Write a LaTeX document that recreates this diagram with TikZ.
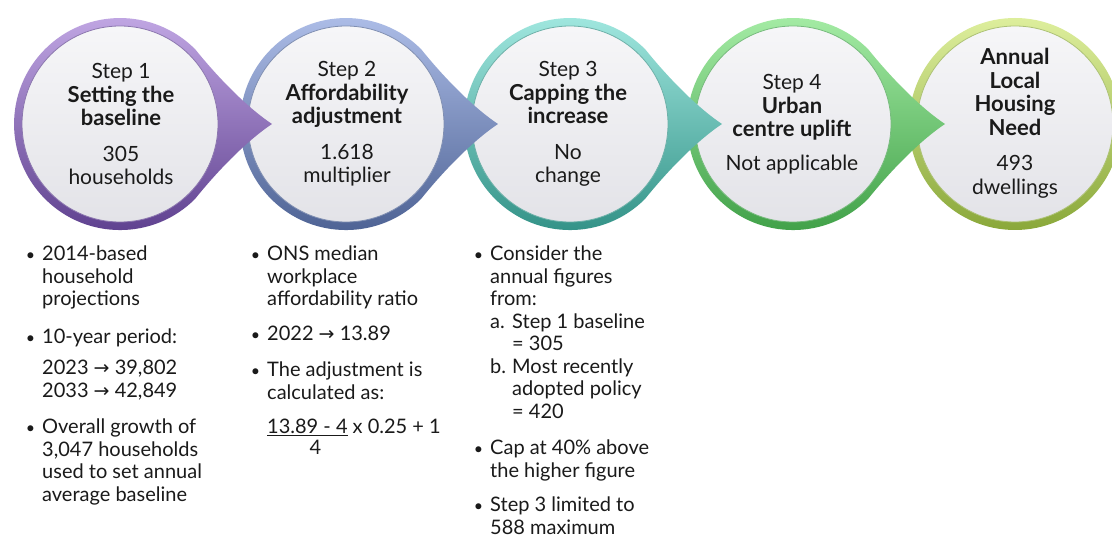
\documentclass[tikz,border=0pt]{standalone}
\usepackage{fontspec}
\setmainfont{Lato}
\newfontfamily\arrowfont{DejaVu Sans}
\usetikzlibrary{calc}
\definecolor{pAt}{HTML}{C4AAE6}\definecolor{pAb}{HTML}{5B3D8C}
\definecolor{pBt}{HTML}{B0C0EA}\definecolor{pBb}{HTML}{4A5F91}
\definecolor{pCt}{HTML}{A4EAE2}\definecolor{pCb}{HTML}{2F8F84}
\definecolor{pDt}{HTML}{A8EEA8}\definecolor{pDb}{HTML}{3D9E45}
\definecolor{pEt}{HTML}{DDEE9C}\definecolor{pEb}{HTML}{8AA83A}
\definecolor{diskTop}{HTML}{F6F6F8}\definecolor{diskBot}{HTML}{E3E3E8}
\definecolor{ink}{HTML}{1A1A1A}
\tikzset{
  circtext/.style={align=center, font=\fontsize{21}{23.5}\selectfont, text=ink, inner sep=0pt},
  listtext/.style={align=left, font=\fontsize{20}{22.5}\selectfont, text=ink, inner sep=0pt, anchor=north west},
}
\newcommand{\bul}{\llap{{\fontsize{16}{16}\selectfont\textbullet}\hspace{7pt}}}
\newcommand{\rarr}{{\arrowfont\fontsize{19}{19}\selectfont →}}
\newcommand{\hd}[1]{{\fontsize{22}{23.5}\selectfont\textbf{#1}}}
% #1 centre x, #2 top colour, #3 bottom colour
\newcommand{\teardrop}[3]{%
  \shade[top color=#2, bottom color=#3]
    (#1+75,492) .. controls (#1+95,467) and (#1+125,435) .. (#1+152,417)
    .. controls (#1+125,399) and (#1+95,367) .. (#1+75,342)
    arc[start angle=-45, end angle=-315, radius=106] -- cycle;}
\newcommand{\roundel}[3]{%
  \shade[top color=#2, bottom color=#3] (#1,417) circle[radius=106];}
\newcommand{\innerdisk}[2]{%
  \shade[top color=diskTop, bottom color=diskBot, draw=#2!70, line width=0.8pt] (#1,417) circle[radius=98];}
\begin{document}
\begin{tikzpicture}[x=1pt,y=1pt]
\useasboundingbox (0,0) rectangle (1112,541);
\fill[white] (0,0) rectangle (1112,541);
% shapes, drawn right to left so each pointer lies over the next circle
\roundel{1015}{pEt}{pEb}\innerdisk{1015}{pEb}
\teardrop{793}{pDt}{pDb}\innerdisk{793}{pDb}
\teardrop{570}{pCt}{pCb}\innerdisk{570}{pCb}
\teardrop{346}{pBt}{pBb}\innerdisk{346}{pBb}
\teardrop{120}{pAt}{pAb}\innerdisk{120}{pAb}
% circle texts
\node[circtext] (s1) at (121,417) {Step 1\\\hd{Setting the}\\\hd{baseline}\\[12pt]305\\households};
\node[circtext] (s2) at (347,417) {Step 2\\\hd{Affordability}\\\hd{adjustment}\\[12pt]1.618\\multiplier};
\node[circtext] (s3) at (568,417) {Step 3\\\hd{Capping the}\\\hd{increase}\\[12pt]No\\change};
\node[circtext] (s4) at (792,417) {Step 4\\\hd{Urban}\\\hd{centre uplift}\\[10pt]Not applicable};
\node[circtext] (s5) at (1015,418) {\hd{Annual}\\\hd{Local}\\\hd{Housing}\\\hd{Need}\\[12pt]493\\dwellings};
% lists
\node[listtext] (l1) at (42,295) {\bul 2014-based\\household\\projections\\[15pt]\bul 10-year period:\\[9pt]2023 \rarr{} 39,802\\2033 \rarr{} 42,849\\[14pt]\bul Overall growth of\\3,047 households\\used to set annual\\average baseline};
\node[listtext] (l2) at (267,295) {\bul ONS median\\workplace\\affordability ratio\\[12pt]\bul 2022 \rarr{} 13.89\\[14pt]\bul The adjustment is\\calculated as:\\[12pt]{\renewcommand\arraystretch{0.88}\begin{tabular}[t]{@{}c@{}}\underline{13.89 - 4}\\\hspace*{16pt}4\end{tabular}} x 0.25 + 1};
\node[listtext] (l3) at (490,295) {\bul Consider the\\annual figures\\from:\\\makebox[22pt][l]{a.}Step 1 baseline\\\hspace*{22pt}= 305\\\makebox[22pt][l]{b.}Most recently\\\hspace*{22pt}adopted policy\\\hspace*{22pt}= 420\\[14pt]\bul Cap at 40\% above\\the higher figure\\[12pt]\bul Step 3 limited to\\588 maximum};
\end{tikzpicture}
\end{document}
